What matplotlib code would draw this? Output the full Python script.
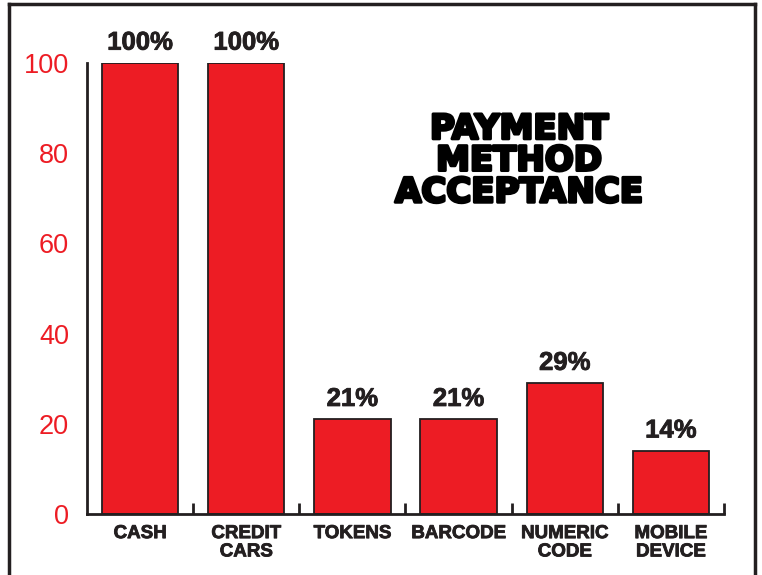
import matplotlib
matplotlib.use("Agg")
import matplotlib.pyplot as plt
import matplotlib.patheffects as pe
from matplotlib.lines import Line2D
import numpy as np

categories = ["CASH", "CREDIT\nCARS", "TOKENS", "BARCODE", "NUMERIC\nCODE", "MOBILE\nDEVICE"]
acceptance = [100, 100, 21, 21, 29, 14]
y_ticks = [0, 20, 40, 60, 80, 100]
title_lines = ["PAYMENT", "METHOD", "ACCEPTANCE"]

RED = "#ed1c24"
INK = "#231f20"

fig = plt.figure(figsize=(7.62, 5.75), dpi=100)
ax = fig.add_axes([87 / 762, 61 / 575, 637 / 762, 451 / 575])

x = np.arange(len(categories))
ax.bar(x, acceptance, width=0.72, color=RED, edgecolor=INK, linewidth=1.3, zorder=2)

ax.set_xlim(-0.5, len(categories) - 0.5)
ax.set_ylim(0, 100)

for side in ("top", "right"):
    ax.spines[side].set_visible(False)
for side in ("left", "bottom"):
    ax.spines[side].set_linewidth(2)
    ax.spines[side].set_color(INK)

ax.set_yticks(y_ticks)
ax.set_yticklabels([str(v) for v in y_ticks], fontsize=19.5, color=RED, family="Liberation Sans")
ax.tick_params(axis="y", length=0, pad=13)

thin_stroke = [pe.withStroke(linewidth=0.6, foreground=INK)]
ax.set_xticks(x)
labels = ax.set_xticklabels(categories, fontsize=13.5, fontweight="bold", color=INK,
                            family="Liberation Sans", linespacing=1.1, va="top")
for lab in labels:
    lab.set_path_effects(thin_stroke)
ax.tick_params(axis="x", which="major", length=0, pad=8)
ax.set_xticks(np.arange(0.5, len(categories), 1.0), minor=True)
ax.tick_params(axis="x", which="minor", direction="in", length=8, width=2, color=INK)

for xi, v in zip(x, acceptance):
    ax.annotate(f"{v}%", (xi, v), xytext=(0, 6), textcoords="offset points",
                ha="center", va="bottom", fontsize=18.5, fontweight="bold",
                color=INK, family="Liberation Sans", path_effects=thin_stroke)

# Heavy three-line title block
stroke = [pe.withStroke(linewidth=2.2, foreground="black")]
fig.text(519 / 762, 1 - 161 / 575, "\n".join(title_lines), ha="center", va="center",
         multialignment="center", fontsize=24.5, fontweight="bold", family="DejaVu Sans",
         color="black", linespacing=0.95, path_effects=stroke)

# Outer frame
fw = 2.5
fig.add_artist(Line2D([9 / 762, 9 / 762], [0, 1 - 4 / 575], color=INK, linewidth=fw, transform=fig.transFigure))
fig.add_artist(Line2D([9 / 762, 755 / 762], [1 - 4 / 575, 1 - 4 / 575], color=INK, linewidth=fw, transform=fig.transFigure))
fig.add_artist(Line2D([755 / 762, 755 / 762], [1 - 4 / 575, 0], color=INK, linewidth=fw, transform=fig.transFigure))

fig.savefig("out.png", dpi=100)
